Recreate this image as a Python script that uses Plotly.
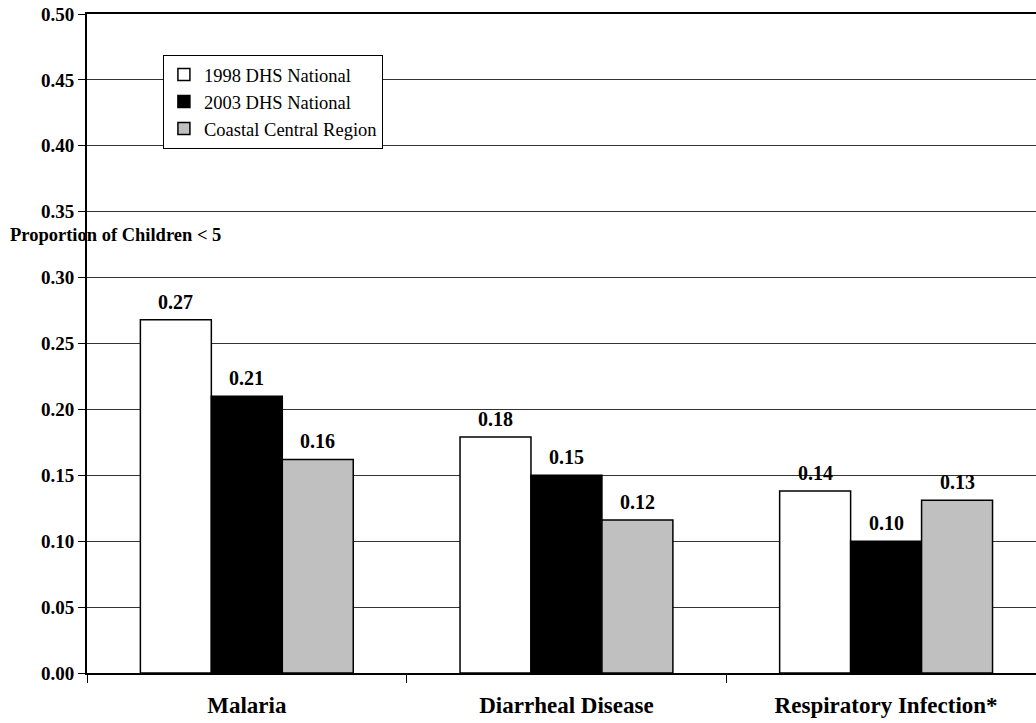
import plotly.graph_objects as go

categories = ["Malaria", "Diarrheal Disease", "Respiratory Infection*"]
series_names = ["1998 DHS National", "2003 DHS National", "Coastal Central Region"]
dhs_1998 = [0.268, 0.179, 0.138]
dhs_2003 = [0.210, 0.150, 0.100]
coastal_central = [0.162, 0.116, 0.131]
y_ticks = [0.00, 0.05, 0.10, 0.15, 0.20, 0.25, 0.30, 0.35, 0.40, 0.45, 0.50]

series_values = [dhs_1998, dhs_2003, coastal_central]
colors = ["#FFFFFF", "#000000", "#C0C0C0"]
FONT = "Liberation Serif"
BARGAP = 0.334

fig = go.Figure()
for name, vals, col in zip(series_names, series_values, colors):
    fig.add_trace(go.Bar(
        x=categories, y=vals, name=name,
        marker=dict(color=col, line=dict(color="#000000", width=1.5)),
    ))

# value labels above bars
n = len(series_values)
w = (1 - BARGAP) / n
for j, vals in enumerate(series_values):
    for i, v in enumerate(vals):
        fig.add_annotation(
            x=i + (j - (n - 1) / 2) * w, y=v, xref="x", yref="y",
            text=f"{v:.2f}", showarrow=False,
            yanchor="bottom", yshift=5,
            font=dict(family=FONT, size=20, color="#000000", weight="bold"),
        )

fig.add_annotation(
    x=-0.083, xref="paper", y=0.332, yref="y", xanchor="left",
    text="Proportion of Children < 5", showarrow=False,
    font=dict(family=FONT, size=18.5, color="#000000", weight="bold"),
)

fig.update_layout(
    width=1036, height=723,
    margin=dict(l=87, r=0, t=14, b=50, autoexpand=False),
    paper_bgcolor="#FFFFFF", plot_bgcolor="#FFFFFF",
    barmode="group", bargap=BARGAP, bargroupgap=0,
    font=dict(family=FONT, color="#000000"),
    legend=dict(
        x=0.080, y=0.938, xanchor="left", yanchor="top",
        bgcolor="#FFFFFF", bordercolor="#000000", borderwidth=1,
        font=dict(family=FONT, size=18.5, color="#000000"),
        traceorder="normal",
    ),
    xaxis=dict(
        type="category", range=[-0.5, 2.469], automargin=False,
        showline=True, linecolor="#000000", linewidth=2, mirror=True,
        ticks="outside", tickson="boundaries", ticklen=8, tickcolor="#000000",
        tickfont=dict(family=FONT, size=23, color="#000000", weight="bold"),
        ticklabelstandoff=10,
        showgrid=False,
    ),
    yaxis=dict(
        range=[0, 0.5], tickvals=y_ticks, tickformat=".2f", automargin=False,
        showline=True, linecolor="#000000", linewidth=2,
        ticks="outside", ticklen=7, tickcolor="#000000",
        tickfont=dict(family=FONT, size=19, color="#000000", weight="bold"),
        showgrid=True, gridcolor="#333333", gridwidth=1,
        zeroline=False,
    ),
)

fig.write_html("out.html", config={"displayModeBar": False},
               post_script="document.body.style.margin='0';")
